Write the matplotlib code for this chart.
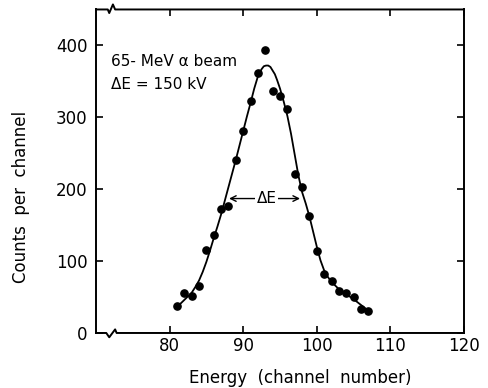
import matplotlib.pyplot as plt

# Measured counts per channel (dots)
channels = [81, 82, 83, 84, 85, 86, 87, 88, 89, 90, 91, 92, 93, 94,
            95, 96, 97, 98, 99, 100, 101, 102, 103, 104, 105, 106, 107]
counts = [37, 55, 51, 65, 116, 136, 173, 176, 240, 281, 322, 361, 394, 336,
          330, 312, 221, 203, 163, 114, 82, 72, 58, 55, 50, 34, 31]

# Fitted curve
fit_x = [80.8, 81.5, 82, 82.5, 83, 83.5, 84, 84.5, 85, 85.5, 86, 86.5, 87,
         87.5, 88, 88.5, 89, 89.5, 90, 90.5, 91, 91.5, 92, 92.5, 92.8, 93.1,
         93.4, 93.7, 94, 94.3, 94.6, 95, 95.5, 96, 96.5, 97, 97.5, 98, 98.5,
         99, 99.5, 100, 100.5, 101, 101.5, 102, 102.5, 103, 104, 105, 106, 107]
fit_y = [35, 41, 46, 51, 56, 64, 73, 85, 99, 115, 132, 148, 165, 184, 203,
         222, 241, 261, 281, 301, 320, 340, 357, 367, 371, 372, 372, 370, 365,
         360, 352, 340, 322, 302, 277, 248, 219, 196, 180, 162, 141, 120, 101,
         87, 78, 71, 66, 61, 54, 47, 39, 31]

x_ticks = [80, 90, 100, 110, 120]
y_ticks = [0, 100, 200, 300, 400]

fig = plt.figure(figsize=(4.89, 3.88), dpi=100)
ax = fig.add_axes([0.1963, 0.1418, 0.7526, 0.8338])

ax.plot(fit_x, fit_y, color='black', lw=1.3)
ax.plot(channels, counts, 'o', color='black', ms=5.2)

ax.set_xlim(70, 120)
ax.set_ylim(0, 450)
ax.set_xticks(x_ticks)
ax.set_yticks(y_ticks)
ax.tick_params(direction='in', top=True, right=True, length=5, width=1.2,
               labelsize=12)
ax.tick_params(axis='x', pad=3)
ax.tick_params(axis='y', pad=6)
for side in ['left', 'right']:
    ax.spines[side].set_linewidth(1.4)

# top/bottom frame drawn by hand with the axis break mark
ax.spines['top'].set_visible(False)
ax.spines['bottom'].set_visible(False)
ax.plot([70, 71.6, 71.8, 72.3, 72.6, 120], [450, 450, 445, 457, 450, 450],
        color='black', lw=1.4, clip_on=False)
ax.plot([70, 71.4, 71.8, 72.6, 72.8, 120], [0, 0, -6, 5, 0, 0],
        color='black', lw=1.4, clip_on=False)

# labels
ax.set_xlabel('Energy  (channel  number)', fontsize=12)
ax.set_ylabel('Counts  per  channel', fontsize=12)
ax.xaxis.set_label_coords(0.554, -0.111)
ax.yaxis.set_label_coords(-0.179, 0.42)

ax.text(72.0, 378, '65- MeV α beam', fontsize=11, ha='left', va='center')
ax.text(72.0, 346, 'ΔE = 150 kV', fontsize=11, ha='left', va='center')

# FWHM marker
ax.annotate('', xy=(87.7, 187), xytext=(93.2, 187),
            arrowprops=dict(arrowstyle='->', lw=1, color='black'))
ax.annotate('', xy=(98.1, 187), xytext=(93.2, 187),
            arrowprops=dict(arrowstyle='->', lw=1, color='black'))
ax.text(93.2, 187, 'ΔE', fontsize=11, ha='center', va='center',
        bbox=dict(facecolor='white', edgecolor='none', pad=1))

fig.savefig('out.png', dpi=100)
